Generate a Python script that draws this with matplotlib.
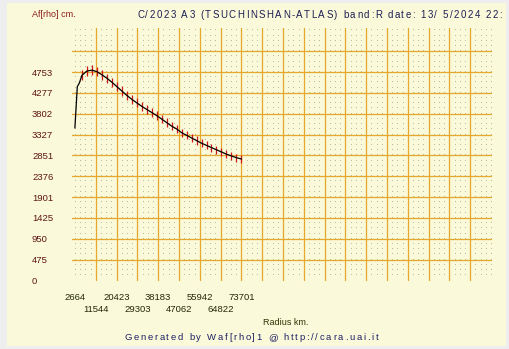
import matplotlib
matplotlib.use("Agg")
import matplotlib.pyplot as plt
import numpy as np
from matplotlib.textpath import TextToPath
from matplotlib.font_manager import FontProperties
from matplotlib.patches import Rectangle

# ---------------- data ----------------
radius_km = [2664, 3690, 4540,
             5695, 7820, 9945, 12070, 14195, 16320, 18445, 20570, 22695, 24820,
             26945, 29070, 31195, 33320, 35445, 37570, 39695, 41820, 43945, 46070,
             48195, 50320, 52445, 54570, 56695, 58820, 60945, 63070, 65195, 67320,
             69445, 71570, 73695]
afrho_cm = [3480, 4420, 4500,
            4680, 4775, 4795, 4760, 4690, 4610, 4520, 4420, 4320, 4220,
            4130, 4050, 3970, 3900, 3830, 3760, 3680, 3600, 3520, 3455,
            3370, 3310, 3250, 3190, 3130, 3080, 3030, 2980, 2930, 2880,
            2840, 2800, 2770]
afrho_err = [0, 0, 0,
             110, 110, 110, 109, 108, 107, 106, 105, 104, 103,
             102, 101, 100, 100, 99, 98, 97, 97, 96, 95,
             95, 94, 94, 93, 93, 92, 92, 91, 91, 91,
             90, 90, 90]

x_tick_values = [2664, 11544, 20423, 29303, 38183, 47062, 55942, 64822, 73701]
y_tick_values = [0, 475, 950, 1425, 1901, 2376, 2851, 3327, 3802, 4277, 4753]

title_text = "C/2023 A3 (TSUCHINSHAN-ATLAS) band:R date: 13/ 5/2024 22:"
ylabel_text = "Af[rho] cm."
xlabel_text = "Radius km."
footer_text = "Generated by Waf[rho]1 @ http://cara.uai.it"

# ---------------- layout ----------------
W, H, DPI = 509, 349, 100
FONT = "Liberation Sans"
panel_col = "#FAFADA"
grid_col = "#E6A82A"
dot_col = "#B9BD9C"

fig = plt.figure(figsize=(W / DPI, H / DPI), dpi=DPI, facecolor="#EEEEEE")
fig.patches.append(Rectangle((7 / W, 3 / H), (506 - 7) / W, (346 - 3) / H,
                             transform=fig.transFigure, facecolor=panel_col,
                             edgecolor="none", zorder=-10))

L, R, T, B = 72.3, 491.7, 28.0, 280.5
ax = fig.add_axes([L / W, 1 - B / H, (R - L) / W, (B - T) / H])
ax.set_zorder(5)
ax.set_facecolor(panel_col)
for s in ax.spines.values():
    s.set_visible(False)

xstep = (x_tick_values[-1] - x_tick_values[0]) / (len(x_tick_values) - 1)
ystep = y_tick_values[-1] / (len(y_tick_values) - 1)
px_per_x = 20.81 / xstep
x0 = x_tick_values[0] - (74.9 - L) / px_per_x
x1 = x_tick_values[0] + (R - 74.9) / px_per_x
ypx = 20.85 / ystep
ax.set_xlim(x0, x1)
ax.set_ylim(0, (B - T) / ypx)

# dotted minor grid
xs = x_tick_values[0] + np.arange(-1, 81) * xstep / 4
ys = np.arange(1, 49) * ystep / 4
xs = xs[(xs > x0) & (xs < x1)]
XX, YY = np.meshgrid(xs, ys)
ax.plot(XX.ravel(), YY.ravel(), linestyle="none", marker=",", color=dot_col,
        zorder=1)

# major grid
for k in range(1, 20):
    ax.axvline(x_tick_values[0] + k * xstep, color=grid_col, lw=0.9, zorder=2)
for k in range(1, 12):
    ax.axhline(k * ystep, color=grid_col, lw=0.9, zorder=2)

# data
r = np.array(radius_km)
v = np.array(afrho_cm)
e = np.array(afrho_err)
has = e > 0
ax.vlines(r[has], (v - e)[has], (v + e)[has], color="#D01818", lw=0.9, zorder=3)
ax.plot(r, v, color="black", lw=0.9, zorder=4)

# ticks
ax.set_yticks(y_tick_values)
ax.set_yticklabels([str(t) for t in y_tick_values], ha="left",
                   fontsize=6.8, family=FONT, color="#5E1414")
ax.tick_params(axis="y", length=0, pad=(L - 32) * 72 / DPI)

ax.set_xticks(x_tick_values[0::2])
ax.set_xticklabels([str(t) for t in x_tick_values[0::2]], fontsize=6.8,
                   family=FONT, color="#23270A")
ax.set_xticks(x_tick_values[1::2], minor=True)
ax.set_xticklabels([str(t) for t in x_tick_values[1::2]], minor=True,
                   fontsize=6.8, family=FONT, color="#23270A")
ax.tick_params(axis="x", which="major", length=0, pad=9.0)
ax.tick_params(axis="x", which="minor", length=0, pad=17.8)

# ---------------- texts ----------------
ttp = TextToPath()


def adv(ch, fp):
    w1 = ttp.get_text_width_height_descent("x" + ch + "x", fp, ismath=False)[0]
    w0 = ttp.get_text_width_height_descent("xx", fp, ismath=False)[0]
    return (w1 - w0) * DPI / 72


def tracked(s, xa, xb, yc, size, color):
    fp = FontProperties(family=FONT, size=size)
    w = [adv(c, fp) for c in s]
    track = ((xb - xa) - sum(w)) / (len(s) - 1)
    x = xa
    for c, wc in zip(s, w):
        fig.text(x / W, 1 - yc / H, c, fontsize=size, family=FONT, color=color,
                 ha="left", va="center")
        x += wc + track


tracked(title_text, 137, 502, 14.7, 7, "#1E1E55")
tracked(footer_text, 124.3, 378, 337.8, 6.8, "#1E1E66")
fig.text(32 / W, 1 - 14.7 / H, ylabel_text, fontsize=6.5, family=FONT,
         color="#8B1A1A", ha="left", va="center")
fig.text(263 / W, 1 - 322.7 / H, xlabel_text, fontsize=6.5, family=FONT,
         color="#2E3300", ha="left", va="center")

fig.savefig("out.png", dpi=DPI, facecolor=fig.get_facecolor())
